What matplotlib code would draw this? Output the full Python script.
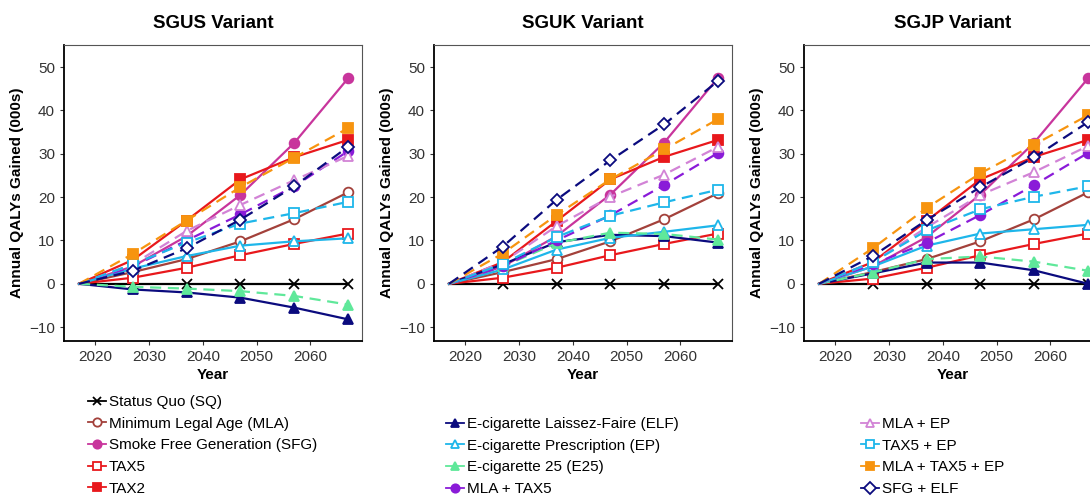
import matplotlib.pyplot as plt
from matplotlib.lines import Line2D

plt.rcParams['font.family'] = ['Liberation Sans', 'DejaVu Sans']

years = [2017, 2027, 2037, 2047, 2057, 2067]

codes = ["SQ", "MLA", "SFG", "TAX5", "TAX2", "ELF", "EP", "E25",
         "MLA+TAX5", "MLA+EP", "TAX5+EP", "MLA+TAX5+EP", "SFG+ELF"]
labels = ["Status Quo (SQ)", "Minimum Legal Age (MLA)", "Smoke Free Generation (SFG)",
          "TAX5", "TAX2", "E-cigarette Laissez-Faire (ELF)", "E-cigarette Prescription (EP)",
          "E-cigarette 25 (E25)", "MLA + TAX5", "MLA + EP", "TAX5 + EP",
          "MLA + TAX5 + EP", "SFG + ELF"]

# QALYs gained (000s) per scenario, one dict per model variant
sgus = {
    "SQ": [0, 0, 0, 0, 0, 0],
    "MLA": [0, 2.7, 5.7, 9.8, 14.9, 21.1],
    "SFG": [0, 4.0, 11.0, 20.5, 32.5, 47.4],
    "TAX5": [0, 1.4, 3.7, 6.6, 9.2, 11.6],
    "TAX2": [0, 5.5, 14.6, 24.1, 29.2, 33.2],
    "ELF": [0, -1.3, -2.0, -3.2, -5.5, -8.2],
    "EP": [0, 3.5, 6.4, 8.8, 9.8, 10.5],
    "E25": [0, -0.7, -1.1, -1.7, -2.8, -4.8],
    "MLA+TAX5": [0, 4.0, 10.0, 16.0, 22.5, 30.6],
    "MLA+EP": [0, 4.5, 12.2, 18.2, 23.9, 29.5],
    "TAX5+EP": [0, 4.5, 9.5, 13.9, 16.3, 18.9],
    "MLA+TAX5+EP": [0, 6.9, 14.6, 22.3, 29.1, 35.9],
    "SFG+ELF": [0, 3.0, 8.2, 14.8, 22.5, 31.6],
}
sguk = {
    "SQ": [0, 0, 0, 0, 0, 0],
    "MLA": [0, 2.7, 5.7, 9.8, 14.9, 20.9],
    "SFG": [0, 4.0, 11.0, 20.6, 32.6, 47.5],
    "TAX5": [0, 1.4, 3.7, 6.6, 9.2, 11.6],
    "TAX2": [0, 5.0, 14.5, 24.1, 29.3, 33.2],
    "ELF": [0, 4.5, 9.6, 11.3, 11.0, 9.5],
    "EP": [0, 3.3, 7.9, 10.6, 12.0, 13.5],
    "E25": [0, 4.0, 9.4, 11.8, 11.5, 10.2],
    "MLA+TAX5": [0, 4.0, 10.0, 15.8, 22.8, 30.2],
    "MLA+EP": [0, 5.0, 13.3, 20.1, 25.2, 31.6],
    "TAX5+EP": [0, 4.6, 10.8, 15.7, 18.8, 21.7],
    "MLA+TAX5+EP": [0, 7.0, 15.9, 24.1, 31.0, 38.0],
    "SFG+ELF": [0, 8.6, 19.4, 28.5, 36.8, 46.8],
}
sgjp = {
    "SQ": [0, 0, 0, 0, 0, 0],
    "MLA": [0, 2.7, 5.7, 9.8, 14.9, 21.1],
    "SFG": [0, 4.0, 10.8, 20.6, 32.6, 47.4],
    "TAX5": [0, 1.2, 3.7, 6.6, 9.2, 11.6],
    "TAX2": [0, 5.0, 14.5, 24.1, 29.3, 33.2],
    "ELF": [0, 2.4, 4.9, 4.9, 3.1, 0.0],
    "EP": [0, 4.0, 8.8, 11.6, 12.6, 13.6],
    "E25": [0, 2.6, 5.7, 6.3, 5.1, 3.0],
    "MLA+TAX5": [0, 4.5, 9.5, 15.9, 22.8, 30.2],
    "MLA+EP": [0, 5.0, 13.0, 20.5, 25.8, 31.8],
    "TAX5+EP": [0, 5.0, 12.3, 17.2, 20.1, 22.5],
    "MLA+TAX5+EP": [0, 8.2, 17.5, 25.5, 32.1, 38.9],
    "SFG+ELF": [0, 6.4, 14.7, 22.3, 29.2, 37.3],
}
variants = ["SGUS Variant", "SGUK Variant", "SGJP Variant"]

# colour, marker, filled, dashed
styles = {
    "SQ": ("#000000", "x", True, False),
    "MLA": ("#A3413B", "o", False, False),
    "SFG": ("#C8359C", "o", True, False),
    "TAX5": ("#E8181C", "s", False, False),
    "TAX2": ("#E8181C", "s", True, False),
    "ELF": ("#0B0B7E", "^", True, False),
    "EP": ("#1EB6EA", "^", False, False),
    "E25": ("#5FE89A", "^", True, True),
    "MLA+TAX5": ("#8A1BD8", "o", True, True),
    "MLA+EP": ("#D283D6", "^", False, True),
    "TAX5+EP": ("#1EB6EA", "s", False, True),
    "MLA+TAX5+EP": ("#F7940F", "s", True, True),
    "SFG+ELF": ("#0B0B7E", "D", False, True),
}


def style_kw(code):
    col, mk, filled, dashed = styles[code]
    kw = dict(color=col, marker=mk, lw=1.6, ms=7 if mk != "D" else 6,
              markeredgewidth=1.3, markeredgecolor=col,
              markerfacecolor=col if filled else "white")
    if dashed:
        kw["linestyle"] = (0, (5, 3))
    return kw


fig = plt.figure(figsize=(10.9, 4.99), dpi=100)
lefts = [64, 434, 804]
for left, title, data in zip(lefts, variants, [sgus, sguk, sgjp]):
    ax = fig.add_axes([left / 1090, 158 / 499, 298 / 1090, 296 / 499])
    for code in codes:
        ax.plot(years, data[code], markevery=slice(1, None), **style_kw(code))
    ax.set_xlim(2014.2, 2069.6)
    ax.set_ylim(-13.2, 55.1)
    ax.set_xticks([2020, 2030, 2040, 2050, 2060])
    ax.set_yticks([-10, 0, 10, 20, 30, 40, 50])
    ax.tick_params(labelsize=11, colors="#333333", length=3)
    ax.set_title(title, fontsize=13.5, fontweight="bold", pad=12)
    ax.set_xlabel("Year", fontsize=11, fontweight="bold", labelpad=3)
    ax.set_ylabel("Annual QALYs Gained (000s)", fontsize=11, fontweight="bold")
    for s in ["left", "bottom"]:
        ax.spines[s].set_linewidth(1.3)
    for s in ["top", "right"]:
        ax.spines[s].set_color("#555555")
        ax.spines[s].set_linewidth(0.8)

# legend in three columns underneath
columns = [codes[0:5], codes[5:9], codes[9:13]]
col_x = [88, 446, 861]
col_y = [395, 417, 417]
for cols, cx, cy in zip(columns, col_x, col_y):
    handles = [Line2D([], [], **style_kw(c)) for c in cols]
    for h in handles:
        h.set_markersize(6)
        h.set_linestyle("-")
        h.set_linewidth(1.3)
    labs = [labels[codes.index(c)] for c in cols]
    fig.legend(handles, labs, loc="upper left",
               bbox_to_anchor=(cx / 1090, 1 - cy / 499), frameon=False,
               handlelength=1.2, handletextpad=0.15, labelspacing=0.5,
               borderaxespad=0, borderpad=0, fontsize=11)

fig.savefig("out.png", dpi=100)
